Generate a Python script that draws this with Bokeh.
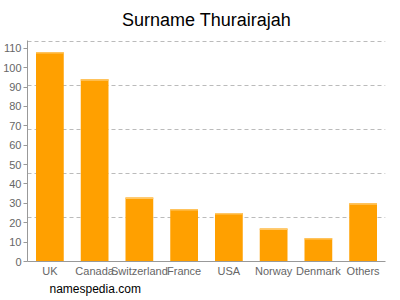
from bokeh.plotting import figure
from bokeh.models import FixedTicker, Title, Range1d
from bokeh.embed import file_html
from bokeh.resources import INLINE

countries = ["UK", "Canada", "Switzerland", "France", "USA", "Norway", "Denmark", "Others"]
counts = [108, 94, 33, 27, 25, 17, 12, 30]
y_ticks = [0, 10, 20, 30, 40, 50, 60, 70, 80, 90, 100, 110]
y_max = 113.6
grid_lines = [y_max * i / 5 for i in range(1, 6)]

FONT = "Liberation Sans"

p = figure(x_range=countries, y_range=Range1d(0, y_max + 0.4), width=400, height=300,
           output_backend="svg", toolbar_location=None, title=None,
           min_border_left=25, min_border_right=15, min_border_top=40, min_border_bottom=39)

p.vbar(x=countries, top=counts, width=0.62, color="#FFA000", line_color=None)
p.vbar(x=countries, top=counts, bottom=[c - 0.7 for c in counts], width=0.62,
       color="#FFC766", line_color=None)

p.add_layout(Title(text="Surname Thurairajah", align="center", text_font=FONT,
                   text_font_size="18px", text_font_style="normal", text_color="#000000",
                   offset=0, standoff=17, vertical_align="top"), "above")
p.add_layout(Title(text="namespedia.com", align="left", text_font=FONT,
                   text_font_size="12px", text_font_style="normal", text_color="#000000",
                   offset=22, standoff=0), "below")

p.outline_line_color = None
p.xgrid.grid_line_color = None
p.ygrid.ticker = FixedTicker(ticks=grid_lines)
p.ygrid.grid_line_color = "#BBBBBB"
p.ygrid.grid_line_dash = "4 3"
p.ygrid.grid_line_width = 1

p.yaxis.ticker = FixedTicker(ticks=y_ticks)
p.yaxis.axis_line_color = "#999999"
p.yaxis.major_tick_line_color = "#999999"
p.yaxis.major_tick_out = 4
p.yaxis.major_tick_in = 0
p.yaxis.minor_tick_line_color = None
p.yaxis.major_label_text_font = FONT
p.yaxis.major_label_text_font_size = "11px"
p.yaxis.major_label_text_color = "#666666"
p.yaxis.major_label_standoff = 2

p.xaxis.axis_line_color = "#999999"
p.xaxis.major_tick_line_color = None
p.xaxis.major_tick_out = 0
p.xaxis.major_tick_in = 0
p.xaxis.minor_tick_line_color = None
p.xaxis.major_label_text_font = FONT
p.xaxis.major_label_text_font_size = "11px"
p.xaxis.major_label_text_color = "#666666"
p.xaxis.major_label_standoff = 3
p.x_range.range_padding = 0.0

open("out.html", "w").write(file_html(p, INLINE))
